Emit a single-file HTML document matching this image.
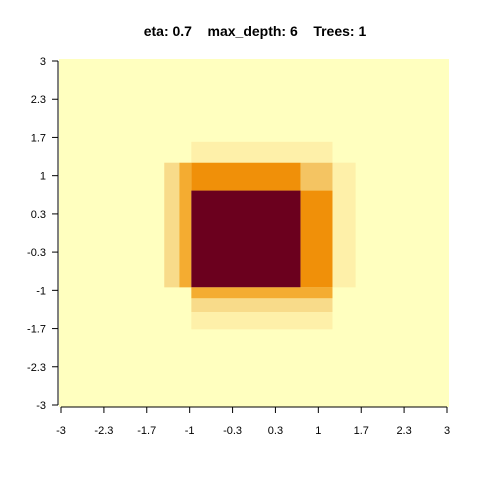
<!DOCTYPE html>
<html><head><meta charset="utf-8"><style>
body{margin:0;background:#fff;}
svg text{font-family:"Liberation Sans",sans-serif;font-size:11px;fill:#000;}
</style></head><body>
<svg width="480" height="480" id="c"></svg>
<script>
const xTicks=[-3,-2.333,-1.667,-1,-0.333,0.333,1,1.667,2.333,3];
const xTickLabels=["-3","-2.3","-1.7","-1","-0.3","0.3","1","1.7","2.3","3"];
const yTicks=[-3,-2.333,-1.667,-1,-0.333,0.333,1,1.667,2.333,3];
const yTickLabels=["-3","-2.3","-1.7","-1","-0.3","0.3","1","1.7","2.3","3"];
const rectX0=[-0.974,-1.395,-1.16,-0.974,0.724,1.22,-0.974,0.724,-0.974,-0.974,-0.974];
const rectX1=[1.22,-1.16,-0.974,0.724,1.22,1.58,0.724,1.22,1.22,1.22,1.22];
const rectY0=[1.226,-0.948,-0.948,0.74,0.74,-0.948,-0.948,-0.948,-1.14,-1.38,-1.68];
const rectY1=[1.59,1.226,1.226,1.226,1.226,1.226,0.74,0.74,-0.948,-1.14,-1.38];
const rectLevel=[1,2,3,4,5,1,6,4,3,2,1];
const palette=["#FFFFBF","#FEF0A9","#F8DB8A","#F4AC31","#F09009","#F4C462","#6B001E"];
const svg=document.getElementById('c');const NS="http://www.w3.org/2000/svg";
const X=v=>61+(v+3)/6*386, Y=v=>405-(v+3)/6*344;
function el(t,a,p){const e=document.createElementNS(NS,t);for(const k in a)e.setAttribute(k,a[k]);(p||svg).appendChild(e);return e;}
const bg=el('rect',{x:59,y:59,width:390,height:348,fill:palette[0]});


for(let i=0;i<rectX0.length;i++){
 const r=el('rect',{x:X(rectX0[i]),y:Y(rectY1[i]),width:X(rectX1[i])-X(rectX0[i]),height:Y(rectY0[i])-Y(rectY1[i]),fill:palette[rectLevel[i]]});
 
 
}
const xa=el('line',{x1:X(-3),x2:X(3),y1:407,y2:407,stroke:'#000'});


const ya=el('line',{x1:58,x2:58,y1:Y(-3),y2:Y(3),stroke:'#000'});


xTicks.forEach((v,i)=>{el('line',{x1:X(v),x2:X(v),y1:407,y2:413,stroke:'#000'});
 const t=el('text',{x:X(v),y:434,'text-anchor':'middle'});t.textContent=xTickLabels[i];
 
 });
yTicks.forEach((v,i)=>{el('line',{x1:52,x2:58,y1:Y(v),y2:Y(v),stroke:'#000'});
 const t=el('text',{x:46,y:Y(v)+4,'text-anchor':'end'});t.textContent=yTickLabels[i];
 
 });
const ti=el('text',{x:255,y:36,'text-anchor':'middle','font-weight':'bold',style:'font-size:14px;white-space:pre'});
ti.textContent="eta: 0.7    max_depth: 6    Trees: 1";


</script>
</body></html>
